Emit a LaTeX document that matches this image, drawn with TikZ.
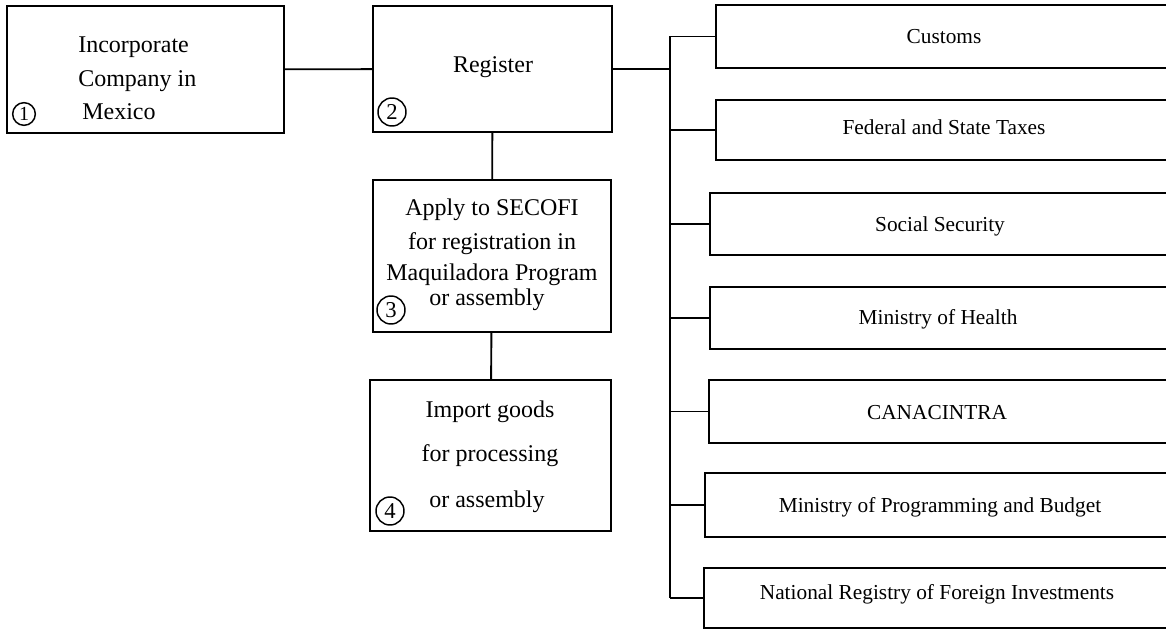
\documentclass[tikz,border=0pt]{standalone}
\usepackage{fontspec}
\setmainfont{Liberation Serif}
\usetikzlibrary{fit}
\begin{document}
\begin{tikzpicture}[x=0.75pt,y=-0.75pt,
  box/.style={draw, line width=1.4pt, inner sep=0pt},
  conn/.style={line width=1.4pt},
  num/.style={draw, circle, line width=1.1pt, inner sep=0pt, minimum size=21pt, font=\fontsize{17}{17}\selectfont},
  big/.style={font=\fontsize{18}{20}\selectfont, inner sep=0pt, anchor=base},
  bigl/.style={big, anchor=base west},
  small/.style={font=\fontsize{16}{18}\selectfont, inner sep=0pt, anchor=base}]
\useasboundingbox (0,0) rectangle (1166,630);
% left boxes
\node[box, fit={(7,6) (284,133)}] (inc) {};
\node[box, fit={(373,6) (612,132)}] (reg) {};
\node[box, fit={(373,180) (611,332)}] (apply) {};
\node[box, fit={(370,380) (611,531)}] (import) {};
% right boxes
\node[box, fit={(716,5) (1172,68)}] (customs) {};
\node[box, fit={(716,100) (1172,160)}] (fed) {};
\node[box, fit={(710,193) (1172,255)}] (social) {};
\node[box, fit={(710,287) (1172,349)}] (health) {};
\node[box, fit={(709,380) (1172,443)}] (canac) {};
\node[box, fit={(705,473) (1172,537)}] (prog) {};
\node[box, fit={(704,568) (1172,628)}] (natl) {};
% texts
\node[bigl] (t1a) at (78,53) {Incorporate};
\node[bigl] (t1b) at (78,87) {Company in};
\node[bigl] (t1c) at (82,120) {Mexico};
\node[big] (t2) at (493,73) {Register};
\node[big] (t3a) at (492,216) {Apply to SECOFI};
\node[big] (t3b) at (492,250) {for registration in};
\node[big] (t3c) at (492,281) {Maquiladora Program};
\node[big] (t3d) at (487,306) {or assembly};
\node[big] (t4a) at (490,417) {Import goods};
\node[big] (t4b) at (490,461) {for processing};
\node[big] (t4c) at (487,507) {or assembly};
\node[small] (r1) at (944,44) {Customs};
\node[small] (r2) at (944,135) {Federal and State Taxes};
\node[small] (r3) at (940,232) {Social Security};
\node[small] (r4) at (938,325) {Ministry of Health};
\node[small] (r5) at (937,419) {CANACINTRA};
\node[small] (r6) at (940,512) {Ministry of Programming and Budget};
\node[small] (r7) at (937,599) {National Registry of Foreign Investments};
% circled numbers
\node[num, minimum size=17pt, font=\fontsize{15}{15}\selectfont] (n1) at (24,114) {1};
\node[num] (n2) at (392,112) {2};
\node[num] (n3) at (391,310) {3};
\node[num] (n4) at (390,511) {4};
% connectors
\coordinate (bus) at (670,69);
\draw[conn] (inc) -- (reg);
\draw[conn] (reg) -- (apply);
\draw[conn] (apply) -- (import);
\draw[conn] (reg.east |- bus) -- (bus);
\draw[conn] (bus |- customs.west) -- (bus |- natl.west);
\foreach \b in {customs,fed,social,health,canac,prog,natl}
  \draw[conn] (bus |- \b.west) -- (\b.west);
\end{tikzpicture}
\end{document}
